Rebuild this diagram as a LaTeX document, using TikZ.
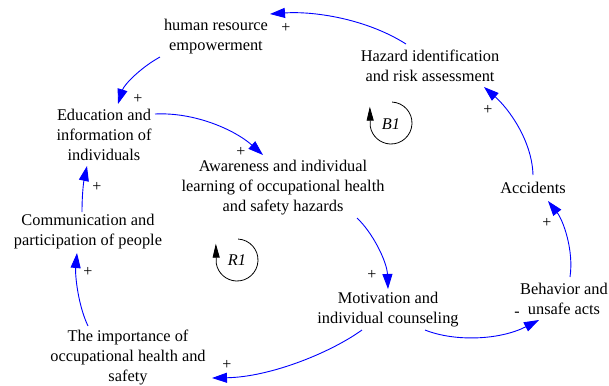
\documentclass[tikz,border=0pt]{standalone}
\usepackage{fontspec}
\setmainfont{Liberation Serif}
\usetikzlibrary{arrows.meta}
\definecolor{linkblue}{RGB}{0,0,255}
\begin{document}
\begin{tikzpicture}[x=1bp,y=-1bp,
  var/.style={align=center,inner sep=0pt,font=\fontsize{16.35bp}{20bp}\selectfont},
  pol/.style={inner sep=0pt,font=\fontsize{16bp}{18bp}\selectfont},
  link/.style={draw=linkblue,line width=0.9bp,-{Triangle[length=15bp,width=10bp]}},
  loopmark/.style={draw=black,line width=0.8bp,-{Triangle[length=14bp,width=7bp]}},
  looplabel/.style={inner sep=0pt,font=\fontsize{16.35bp}{20bp}\selectfont\itshape}]
\useasboundingbox (0,0) rectangle (609,385);

% variables
\node[var] (hr)     at (216,37)  {human resource\\empowerment};
\node[var] (edu)    at (104,135) {Education and\\information of\\individuals};
\node[var] (aware)  at (283,188) {Awareness and individual\\learning of occupational health\\and safety hazards};
\node[var] (hazard) at (430,66)  {Hazard identification\\and risk assessment};
\node[var] (comm)   at (88,232)  {Communication and\\participation of people};
\node[var] (imp)    at (128,357) {The importance of\\occupational health and\\safety};
\node[var] (motiv)  at (388,310) {Motivation and\\individual counseling};
\node[var] (behav)  at (564,299) {Behavior and\\unsafe acts};
\node[var] (acc)    at (533,188) {Accidents};

% causal links
\draw[link] ([shift={(-24,-22)}]hazard.center) .. controls (365,18) and (312,11) .. ([shift={(54,-23)}]hr.center);
\draw[link] ([shift={(-56,20)}]hr.center) .. controls (140,68) and (124,85) .. ([shift={(14,-31)}]edu.center);
\draw[link] ([shift={(51,-21)}]edu.center) .. controls (195,112) and (235,130) .. ([shift={(-20,-33)}]aware.center);
\draw[link] ([shift={(74,30)}]aware.center) .. controls (373,233) and (387,262) .. ([shift={(0,-21)}]motiv.center);
\draw[link] ([shift={(37,20)}]motiv.center) .. controls (455,342) and (500,340) .. ([shift={(-25,21)}]behav.center);
\draw[link] ([shift={(6,-22)}]behav.center) .. controls (574,250) and (563,220) .. ([shift={(15,13)}]acc.center);
\draw[link] ([shift={(0,-13)}]acc.center) .. controls (532,140) and (508,108) .. ([shift={(54,21)}]hazard.center);
\draw[link] ([shift={(-26,20)}]motiv.center) .. controls (330,353) and (270,377) .. ([shift={(84,21)}]imp.center);
\draw[link] ([shift={(-40,-31)}]imp.center) .. controls (78,305) and (75,275) .. ([shift={(-11,21)}]comm.center);
\draw[link] ([shift={(-6,-20)}]comm.center) .. controls (82,192) and (84,180) .. ([shift={(-17,31)}]edu.center);

% link polarities
\node[pol] (p1) at (286,28)  {+};
\node[pol] (p2) at (138,99)  {+};
\node[pol] (p3) at (241,152) {+};
\node[pol] (p4) at (372,275) {+};
\node[pol] (p5) at (517,314) {-};
\node[pol] (p6) at (547,223) {+};
\node[pol] (p7) at (488,110) {+};
\node[pol] (p8) at (227,365) {+};
\node[pol] (p9) at (88,272)  {+};
\node[pol] (p10) at (97,187) {+};

% loop identifiers
\node[looplabel] (b1) at (391,124) {B1};
\node[looplabel] (r1) at (237,260) {R1};
\draw[loopmark] (391,123) ++(-87:21) arc[start angle=-87,end angle=170,radius=21] -- ++(-0.5,-20);
\draw[loopmark] (237,260) ++(-87:21) arc[start angle=-87,end angle=170,radius=21] -- ++(-0.5,-20);
\end{tikzpicture}
\end{document}
